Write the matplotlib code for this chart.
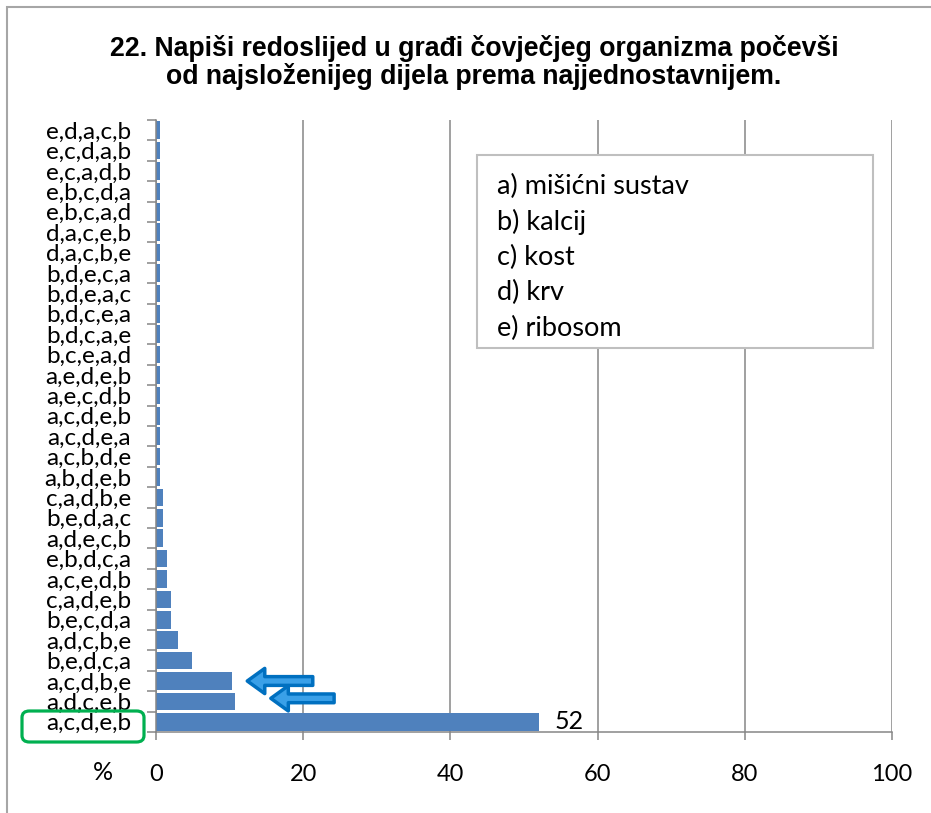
import matplotlib
matplotlib.use("Agg")
from matplotlib import pyplot as plt
from matplotlib.patches import Rectangle, FancyBboxPatch
import numpy as np

# categories listed bottom -> top
orders = ["a,c,d,e,b", "a,d,c,e,b", "a,c,d,b,e", "b,e,d,c,a", "a,d,c,b,e",
          "b,e,c,d,a", "c,a,d,e,b", "a,c,e,d,b", "e,b,d,c,a", "a,d,e,c,b",
          "b,e,d,a,c", "c,a,d,b,e", "a,b,d,e,b", "a,c,b,d,e", "a,c,d,e,a",
          "a,c,d,e,b", "a,e,c,d,b", "a,e,d,e,b", "b,c,e,a,d", "b,d,c,a,e",
          "b,d,c,e,a", "b,d,e,a,c", "b,d,e,c,a", "d,a,c,b,e", "d,a,c,e,b",
          "e,b,c,a,d", "e,b,c,d,a", "e,c,a,d,b", "e,c,d,a,b", "e,d,a,c,b"]
percent = [52, 10.7, 10.3, 4.9, 3.0,
           2.0, 2.0, 1.5, 1.5, 1.0,
           1.0, 1.0, 0.5, 0.5, 0.5,
           0.5, 0.5, 0.5, 0.5, 0.5,
           0.5, 0.5, 0.5, 0.5, 0.5,
           0.5, 0.5, 0.5, 0.5, 0.5]
key_lines = ["a) mišićni sustav", "b) kalcij", "c) kost", "d) krv", "e) ribosom"]
x_ticks = [0, 20, 40, 60, 80, 100]
title_lines = ["22. Napiši redoslijed u građi čovječjeg organizma počevši",
               "od najsloženijeg dijela prema najjednostavnijem."]

plt.rcParams['font.family'] = ['Lato', 'DejaVu Sans']
grey = "#868686"
bar_color = "#4F81BD"

fig = plt.figure(figsize=(9.31, 8.13), dpi=100)
W, H = 931, 813

# outer chart border
fig.patches.append(Rectangle((7 / W, -0.1), 1.2, 1.1 - 7 / H,
                             transform=fig.transFigure, fill=False,
                             edgecolor="#A6A6A6", lw=1.5))

ax = fig.add_axes([156 / W, 1 - 732 / H, 736 / W, 612 / H])
y = np.arange(len(orders))
ax.barh(y, percent, height=0.86, color=bar_color, zorder=3)
ax.set_xlim(0, 100)
ax.set_ylim(-0.5, len(orders) - 0.5)

ax.set_xticks(x_ticks)
ax.set_xticklabels([str(t) for t in x_ticks], fontsize=17)
ax.set_yticks(y)
ax.set_yticklabels(orders, fontsize=17.5)
ax.set_yticks(np.arange(len(orders) + 1) - 0.5, minor=True)
ax.tick_params(axis="y", which="major", length=0, pad=18)
ax.tick_params(axis="y", which="minor", length=6.5, width=1.1, color=grey)
ax.tick_params(axis="x", length=6, width=1.1, color=grey, pad=17)
ax.xaxis.grid(True, color=grey, lw=1.1, zorder=0)
for side in ["top", "right"]:
    ax.spines[side].set_visible(False)
for side in ["left", "bottom"]:
    ax.spines[side].set_color(grey)
    ax.spines[side].set_linewidth(1.1)
    ax.spines[side].set_zorder(4)

# value label on the top answer
ax.text(percent[0] + 2.2, 0, "52", va="center", ha="left", fontsize=18)

# arrows pointing at the next two answers
for yy, x0, x1 in [(2, 21.3, 12.4), (1.15, 24.2, 15.6)]:
    ax.annotate("", xy=(x1, yy), xytext=(x0, yy),
                arrowprops=dict(arrowstyle="simple,head_length=0.9,head_width=1.3,tail_width=0.45",
                                mutation_scale=14, fc="#3AA0E8", ec="#0070C0", lw=2.5,
                                shrinkA=0, shrinkB=0), zorder=6)

# key box
fig.patches.append(Rectangle((477 / W, 1 - 348 / H), 396 / W, 193 / H,
                             transform=fig.transFigure, facecolor="white",
                             edgecolor="#BFBFBF", lw=1.5, zorder=5))
for i, line in enumerate(key_lines):
    fig.text(497 / W, 1 - (186 + 35.5 * i) / H, line, fontsize=19.5,
             va="center", ha="left", zorder=6)

# green frame round the correct answer
fig.patches.append(FancyBboxPatch((22 / W, 1 - 742 / H), 122 / W, 31 / H,
                                  boxstyle="round,pad=0,rounding_size=0.008",
                                  transform=fig.transFigure, fill=False,
                                  edgecolor="#00B050", lw=2.3, zorder=6))

fig.text(103 / W, 1 - 772 / H, "%", fontsize=18, ha="center", va="center")

for i, line in enumerate(title_lines):
    fig.text(474 / W, 1 - (48 + 28 * i) / H, line, fontsize=19.2,
             fontweight="bold", family="Liberation Sans",
             ha="center", va="center")

fig.savefig("out.png", dpi=100)
